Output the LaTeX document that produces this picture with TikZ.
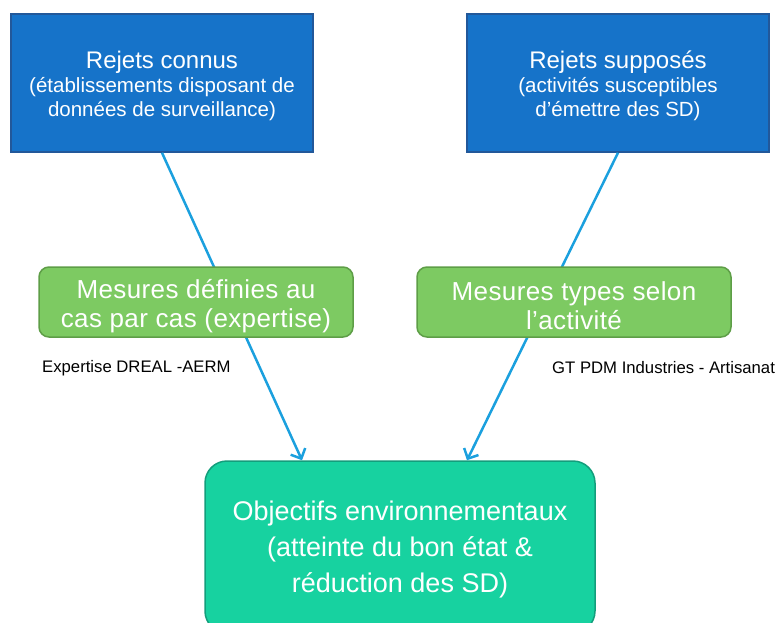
\documentclass[tikz,border=0pt]{standalone}
\usepackage{fontspec}
\setmainfont{Liberation Sans}
\usetikzlibrary{arrows.meta}
\definecolor{bluefill}{HTML}{1673C9}
\definecolor{blueedge}{HTML}{22589A}
\definecolor{greenfill}{HTML}{7DCA62}
\definecolor{greenedge}{HTML}{5E9E47}
\definecolor{tealfill}{HTML}{17D2A0}
\definecolor{tealedge}{HTML}{139E7C}
\definecolor{arrowblue}{HTML}{1BA0DE}
\tikzset{
  bluebox/.style={draw=blueedge, line width=1.5pt, fill=bluefill,
    minimum width=302pt, minimum height=138pt, inner sep=0pt},
  bluetext/.style={text=white, inner sep=0pt, align=center,
    font=\fontsize{20.5}{24}\selectfont},
  greenbox/.style={draw=greenedge, line width=1.5pt, fill=greenfill,
    rounded corners=10pt, minimum width=314pt, minimum height=70pt, inner sep=0pt},
  greentext/.style={text=white, inner sep=0pt, align=center,
    font=\fontsize{26}{29}\selectfont\addfontfeature{LetterSpace=1.5}},
  tealbox/.style={draw=tealedge, line width=1.5pt, fill=tealfill,
    rounded corners=22pt, minimum width=390pt, minimum height=172pt, inner sep=0pt},
  tealtext/.style={text=white, inner sep=0pt, align=center,
    font=\fontsize{27}{36}\selectfont},
  connector/.style={draw=arrowblue, line width=2.5pt,
    -{Straight Barb[length=8pt,width=16pt,line width=2.5pt]}},
  note/.style={anchor=west, inner sep=0pt, font=\fontsize{16.7}{20}\selectfont}
}
\begin{document}
\begin{tikzpicture}[x=1pt,y=-1pt]
\useasboundingbox (0,0) rectangle (782,622);
\node[bluebox] (b1) at (162,83) {};
\node[bluetext] (b1t) at ([yshift=-3pt]b1.center) {{\fontsize{24}{25}\selectfont Rejets connus}\\(établissements disposant de\\données de surveillance)};
\node[bluebox] (b2) at (618,83) {};
\node[bluetext] (b2t) at ([yshift=-3pt]b2.center) {{\fontsize{24}{25}\selectfont Rejets supposés}\\(activités susceptibles\\d’émettre des SD)};
\node[tealbox] (obj) at (400,547) {};
\node[tealtext] (objt) at ([yshift=-3pt]obj.center) {Objectifs environnementaux\\(atteinte du bon état \&\\réduction des SD)};
\coordinate (e1) at ([xshift=-98pt]obj.north);
\coordinate (e2) at ([xshift=67pt]obj.north);
\draw[connector] (b1.south) -- (e1);
\draw[connector] (b2.south) -- (e2);
\node[greenbox] (g1) at (196,302) {};
\node[greentext] (g1t) at ([yshift=-4pt]g1.center) {Mesures définies au\\cas par cas (expertise)};
\node[greenbox] (g2) at (574,302) {};
\node[greentext] (g2t) at ([yshift=-4pt]g2.center) {Mesures types selon\\l’activité};
\node[note] (n1) at (42,368) {Expertise DREAL -AERM};
\node[note] (n2) at (552,368) {GT PDM Industries - Artisanat};
\end{tikzpicture}
\end{document}
